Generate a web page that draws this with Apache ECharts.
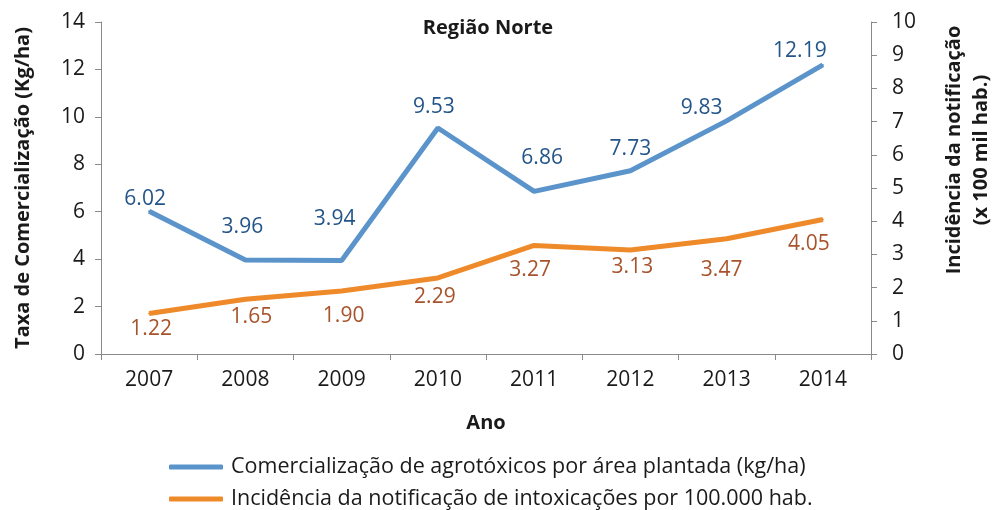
<!DOCTYPE html>
<html>
<head>
<meta charset="utf-8">
<script src="https://cdn.jsdelivr.net/npm/echarts@6/dist/echarts.min.js"></script>
<style>
  html, body { margin: 0; padding: 0; background: #fff; }
  #chart { width: 993px; height: 510px; }
</style>
</head>
<body>
<div id="chart"></div>
<script>
  // dados
  var anos = ['2007', '2008', '2009', '2010', '2011', '2012', '2013', '2014'];
  var comercializacao = [6.02, 3.96, 3.94, 9.53, 6.86, 7.73, 9.83, 12.19];
  var incidencia = [1.22, 1.65, 1.90, 2.29, 3.27, 3.13, 3.47, 4.05];

  var FONT = '"Open Sans", "Noto Sans", sans-serif';
  var axisGray = '#8a8a8a';
  var txt = '#1a1a1a';

  var chart = echarts.init(document.getElementById('chart'));

  // deslocamento de cada rotulo em relacao ao ponto (como posicionados no original)
  var offsetsAzul = [[-4, -12], [-3, -33], [-7, -42], [-4, -21], [8, -33], [0, -22], [-25, -13], [-23, -14]];
  var offsetsLaranja = [[2, 16], [6, 18], [2, 25], [-3, 19], [-4, 25], [2, 17], [-5, 31], [-14, 24]];

  function comRotulos(values, offsets) {
    return values.map(function (v, i) {
      return {value: v, label: {offset: offsets[i]}};
    });
  }

  function rotulo(cor) {
    return {
      show: true,
      position: 'inside',
      fontFamily: FONT,
      fontSize: 21,
      color: cor,
      formatter: function (p) { return p.value.toFixed(2); }
    };
  }

  chart.setOption({
    animation: false,
    textStyle: {fontFamily: FONT},
    title: {
      text: 'Região Norte',
      left: 483,
      textAlign: 'center',
      top: 13,
      textStyle: {fontFamily: FONT, fontSize: 20, fontWeight: 'bold', color: txt}
    },
    grid: {left: 101, right: 122, top: 22, bottom: 156, outerBoundsMode: 'none', containLabel: false},
    legend: {
      orient: 'vertical',
      left: 169,
      top: 456,
      padding: 0,
      itemGap: 10,
      itemWidth: 54,
      itemHeight: 5,
      icon: 'roundRect',
      textStyle: {fontFamily: FONT, fontSize: 21.5, lineHeight: 21, color: txt, padding: [0, 0, 0, 3]},
      data: [
        'Comercialização de agrotóxicos por área plantada (kg/ha)',
        'Incidência da notificação de intoxicações por 100.000 hab.'
      ]
    },
    xAxis: {
      type: 'category',
      data: anos,
      boundaryGap: true,
      name: 'Ano',
      nameLocation: 'middle',
      nameGap: 59,
      nameTextStyle: {fontFamily: FONT, fontSize: 20, fontWeight: 'bold', color: txt},
      axisLine: {lineStyle: {color: axisGray}},
      axisTick: {show: true, length: 6, lineStyle: {color: axisGray}},
      axisLabel: {fontFamily: FONT, fontSize: 21, color: txt, margin: 16}
    },
    yAxis: [{
      type: 'value',
      min: 0,
      max: 14,
      interval: 2,
      name: 'Taxa de Comercialização (Kg/ha)',
      nameLocation: 'middle',
      nameGap: 68,
      nameTextStyle: {fontFamily: FONT, fontSize: 20, fontWeight: 'bold', color: txt},
      axisLine: {show: true, lineStyle: {color: axisGray}},
      axisTick: {show: true, length: 6, lineStyle: {color: axisGray}},
      splitLine: {show: false},
      axisLabel: {fontFamily: FONT, fontSize: 21, color: txt, margin: 16}
    }, {
      type: 'value',
      min: 0,
      max: 10,
      interval: 1,
      position: 'right',
      name: 'Incidência da notificação\n(x 100 mil hab.)',
      nameLocation: 'middle',
      nameGap: 70,
      nameRotate: 90,
      nameTextStyle: {fontFamily: FONT, fontSize: 20, fontWeight: 'bold', color: txt, lineHeight: 27, padding: [0, 0, 0, 76]},
      axisLine: {show: true, lineStyle: {color: axisGray}},
      axisTick: {show: true, length: 6, lineStyle: {color: axisGray}},
      splitLine: {show: false},
      axisLabel: {fontFamily: FONT, fontSize: 21, color: txt, margin: 21}
    }],
    series: [{
      name: 'Comercialização de agrotóxicos por área plantada (kg/ha)',
      type: 'line',
      yAxisIndex: 0,
      data: comRotulos(comercializacao, offsetsAzul),
      symbol: 'circle',
      symbolSize: 2,
      lineStyle: {color: '#5b94cb', width: 5},
      itemStyle: {color: '#5b94cb'},
      label: rotulo('#245588')
    }, {
      name: 'Incidência da notificação de intoxicações por 100.000 hab.',
      type: 'line',
      yAxisIndex: 1,
      data: comRotulos(incidencia, offsetsLaranja),
      symbol: 'circle',
      symbolSize: 2,
      lineStyle: {color: '#ef8a2a', width: 5},
      itemStyle: {color: '#ef8a2a'},
      label: rotulo('#a8532b')
    }]
  });
</script>
</body>
</html>
